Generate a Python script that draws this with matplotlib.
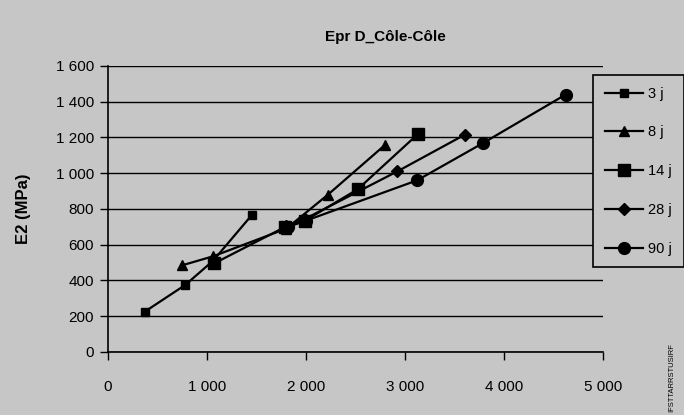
import matplotlib
matplotlib.use("Agg")
import matplotlib.pyplot as plt
from matplotlib.ticker import FuncFormatter, MultipleLocator

# ---- data ----
title = "Epr D_Côle-Côle"
ylabel = "E2 (MPa)"
series_names = ["3 j", "8 j", "14 j", "28 j", "90 j"]

x_3j = [370, 780, 1060, 1450]
y_3j = [225, 375, 510, 765]

x_8j = [750, 1060, 1800, 2220, 2800]
y_8j = [485, 535, 690, 880, 1160]

x_14j = [1070, 1790, 1990, 2520, 3130]
y_14j = [495, 700, 735, 910, 1220]

x_28j = [1800, 1990, 2920, 3600]
y_28j = [705, 745, 1010, 1215]

x_90j = [1820, 2000, 3120, 3790, 4620]
y_90j = [700, 735, 960, 1170, 1440]

side_text = "IFSTTARRSTUSIRF"

# ---- styling ----
bg = "#c6c6c6"
plt.rcParams['font.family'] = ['Liberation Sans', 'DejaVu Sans']

fig = plt.figure(figsize=(6.84, 4.15), dpi=100, facecolor=bg)
ax = fig.add_axes([0.158, 0.152, 0.724, 0.689], facecolor=bg)

styles = [
    (x_3j, y_3j, 's', 6.0),
    (x_8j, y_8j, '^', 7.0),
    (x_14j, y_14j, 's', 8.5),
    (x_28j, y_28j, 'D', 6.0),
    (x_90j, y_90j, 'o', 8.5),
]
for (xs, ys, m, ms), name in zip(styles, series_names):
    ax.plot(xs, ys, color='black', lw=1.6, marker=m, markersize=ms,
            markerfacecolor='black', markeredgecolor='black', label=name,
            zorder=3)

ax.set_xlim(0, 5000)
ax.set_ylim(0, 1600)
ax.xaxis.set_major_locator(MultipleLocator(1000))
ax.yaxis.set_major_locator(MultipleLocator(200))

def fmt(v, pos):
    v = int(round(v))
    return f"{v:,}".replace(",", " ")

ax.xaxis.set_major_formatter(FuncFormatter(fmt))
ax.yaxis.set_major_formatter(FuncFormatter(fmt))

ax.grid(axis='y', color='black', lw=1.0, zorder=1)
for s in ['top', 'right']:
    ax.spines[s].set_visible(False)
for s in ['left', 'bottom']:
    ax.spines[s].set_color('black')
    ax.spines[s].set_linewidth(1.2)
ax.tick_params(axis='both', colors='black', labelsize=11, length=6, width=1.0)
ax.tick_params(axis='x', pad=14)
ax.tick_params(axis='y', pad=4)

ax.set_title(title, fontsize=11, fontweight='bold', pad=18, x=0.56)
ax.set_ylabel(ylabel, fontsize=12, fontweight='bold', labelpad=18)

leg = ax.legend(loc='upper left', bbox_to_anchor=(593 / 684, 1 - 75 / 415),
                bbox_transform=fig.transFigure, frameon=True, fancybox=False,
                edgecolor='black', facecolor=bg, framealpha=1.0,
                fontsize=10.5, labelspacing=1.7, handlelength=2.6,
                handletextpad=0.4, borderpad=0.8, borderaxespad=0)
leg.get_frame().set_linewidth(1.2)

fig.text(672 / 684, 1 - 378 / 415, side_text, rotation=90, fontsize=5.5,
         ha='center', va='center', color='black')

fig.savefig("out.png", dpi=100, facecolor=bg)
